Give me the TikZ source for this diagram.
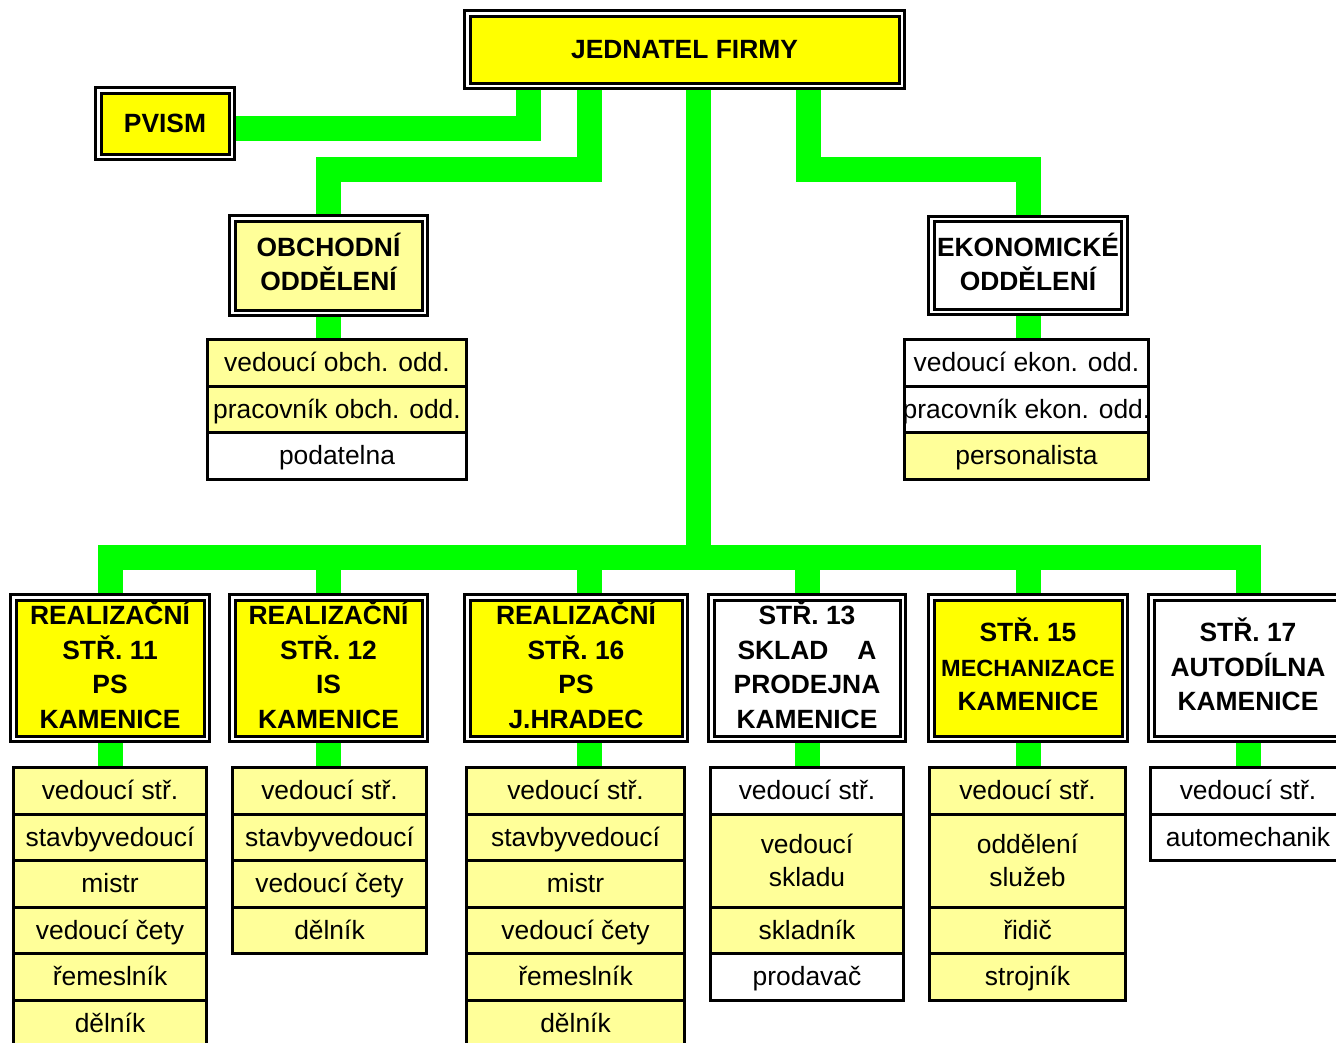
\documentclass[tikz,border=0pt]{standalone}
\usepackage{fontspec}
\setmainfont{Liberation Sans}
\usetikzlibrary{backgrounds}
\definecolor{barGreen}{HTML}{00FF00}
\definecolor{topYellow}{HTML}{FFFF00}
\definecolor{paleYellow}{HTML}{FFFF99}
\def\hdfont{\bfseries\fontsize{26.4}{34.5}\selectfont}
\def\jobfont{\fontsize{26.4}{33}\selectfont}
\tikzset{
	bar/.style={draw=barGreen, line width=25pt},
	head/.style={draw, line width=3pt, double=white, double distance=2.5pt, inner sep=0pt, outer sep=0pt, align=center, font=\hdfont, text depth=7pt},
	post/.style={draw, line width=3pt, inner sep=0pt, outer sep=0pt, align=center, font=\jobfont, minimum height=46.5pt, text height=24pt, text depth=6pt},
	post2/.style={draw, line width=3pt, inner sep=0pt, outer sep=0pt, align=center, font=\jobfont, minimum height=93pt},
}

\begin{document}
\begin{tikzpicture}[x=1pt, y=-1pt]
			%%%%% START %%%%%
			\useasboundingbox (0, 0) rectangle (1336, 1042);
			\clip (0, 0) rectangle (1336, 1042);
			
			\coordinate (pv) at (528, 128);
			\coordinate (ob) at (589, 169);
			\coordinate (ek) at (808, 169);
			\coordinate (bus) at (698, 557);
			
			\node[head, text depth=0pt, fill=topYellow, minimum width=434.5pt, minimum height=72.5pt] (jednatel) at (684.5, 49.5) {JEDNATEL FIRMY};
			\node[head, text depth=0pt, fill=topYellow, minimum width=133.5pt, minimum height=66.5pt] (pvism) at (165, 123.5) {PVISM};
			\node[head, fill=paleYellow, minimum width=192.5pt, minimum height=94.5pt] (obch) at (328.5, 265.5) {OBCHODNÍ\\ODDĚLENÍ};
			\node[head, fill=white, minimum width=193pt, minimum height=93pt] (ekon) at (1028, 265.5) {EKONOMICKÉ\\ODDĚLENÍ};
			
			\node[post, fill=paleYellow, minimum width=259pt] (ob1) at (337, 362.75) {vedoucí obch. odd.};
			\node[post, fill=paleYellow, minimum width=259pt] (ob2) at (337, 409.25) {pracovník obch. odd.};
			\node[post, fill=white, minimum width=259pt] (ob3) at (337, 455.75) {podatelna};
			
			\node[post, fill=white, minimum width=244pt] (ek1) at (1026.5, 362.75) {vedoucí ekon. odd.};
			\node[post, fill=white, minimum width=244pt] (ek2) at (1026.5, 409.25) {\makebox[200pt]{pracovník ekon. odd.}};
			\node[post, fill=paleYellow, minimum width=244pt] (ek3) at (1026.5, 455.75) {personalista};
			
			\node[head, fill=topYellow, minimum width=193.5pt, minimum height=141.5pt] (h11) at (110, 668) {REALIZAČNÍ\\STŘ. 11\\PS\\KAMENICE};
			\node[head, fill=topYellow, minimum width=192.5pt, minimum height=141.5pt] (h12) at (328.5, 668) {REALIZAČNÍ\\STŘ. 12\\IS\\KAMENICE};
			\node[head, fill=topYellow, minimum width=217.5pt, minimum height=141.5pt] (h16) at (576, 668) {REALIZAČNÍ\\STŘ. 16\\PS\\J.HRADEC};
			\node[head, fill=white, minimum width=191.5pt, minimum height=141.5pt] (h13) at (807, 668) {STŘ. 13\\SKLAD\hspace{29pt}A\\PRODEJNA\\KAMENICE};
			\node[head, fill=topYellow, minimum width=193.5pt, minimum height=141.5pt] (h15) at (1028, 668) {STŘ. 15\\{\fontsize{23.5}{34.5}\selectfont MECHANIZACE}\\KAMENICE};
			\node[head, fill=white, minimum width=193.5pt, minimum height=141.5pt] (h17) at (1248, 668) {STŘ. 17\\AUTODÍLNA\\KAMENICE};
			
			\node[post, fill=paleYellow, minimum width=193pt] (l11a) at (110, 790.75) {vedoucí stř.};
			\node[post, fill=paleYellow, minimum width=193pt] (l11b) at (110, 837.25) {stavbyvedoucí};
			\node[post, fill=paleYellow, minimum width=193pt] (l11c) at (110, 883.75) {mistr};
			\node[post, fill=paleYellow, minimum width=193pt] (l11d) at (110, 930.25) {vedoucí čety};
			\node[post, fill=paleYellow, minimum width=193pt] (l11e) at (110, 976.75) {řemeslník};
			\node[post, fill=paleYellow, minimum width=193pt] (l11f) at (110, 1023.25) {dělník};
			
			\node[post, fill=paleYellow, minimum width=194pt] (l12a) at (329.5, 790.75) {vedoucí stř.};
			\node[post, fill=paleYellow, minimum width=194pt] (l12b) at (329.5, 837.25) {stavbyvedoucí};
			\node[post, fill=paleYellow, minimum width=194pt] (l12c) at (329.5, 883.75) {vedoucí čety};
			\node[post, fill=paleYellow, minimum width=194pt] (l12d) at (329.5, 930.25) {dělník};
			
			\node[post, fill=paleYellow, minimum width=218pt] (l16a) at (575.5, 790.75) {vedoucí stř.};
			\node[post, fill=paleYellow, minimum width=218pt] (l16b) at (575.5, 837.25) {stavbyvedoucí};
			\node[post, fill=paleYellow, minimum width=218pt] (l16c) at (575.5, 883.75) {mistr};
			\node[post, fill=paleYellow, minimum width=218pt] (l16d) at (575.5, 930.25) {vedoucí čety};
			\node[post, fill=paleYellow, minimum width=218pt] (l16e) at (575.5, 976.75) {řemeslník};
			\node[post, fill=paleYellow, minimum width=218pt] (l16f) at (575.5, 1023.25) {dělník};
			
			\node[post, fill=white, minimum width=193pt] (l13a) at (807, 790.75) {vedoucí stř.};
			\node[post2, fill=paleYellow, minimum width=193pt] (l13b) at (807, 860.5) {vedoucí\\skladu};
			\node[post, fill=paleYellow, minimum width=193pt] (l13c) at (807, 930.25) {skladník};
			\node[post, fill=white, minimum width=193pt] (l13d) at (807, 976.75) {prodavač};
			
			\node[post, fill=paleYellow, minimum width=196pt] (l15a) at (1027.5, 790.75) {vedoucí stř.};
			\node[post2, fill=paleYellow, minimum width=196pt] (l15b) at (1027.5, 860.5) {oddělení\\služeb};
			\node[post, fill=paleYellow, minimum width=196pt] (l15c) at (1027.5, 930.25) {řidič};
			\node[post, fill=paleYellow, minimum width=196pt] (l15d) at (1027.5, 976.75) {strojník};
			
			\node[post, fill=white, minimum width=195pt] (l17a) at (1248, 790.75) {vedoucí stř.};
			\node[post, fill=white, minimum width=195pt] (l17b) at (1248, 837.25) {automechanik};
			
			\begin{scope}[on background layer]
			\draw[bar] (jednatel.south -| bus) -- (bus);
			\draw[bar] (jednatel.south -| pv) -- (pv) -- (pvism.east |- pv);
			\draw[bar] (jednatel.south -| ob) -- (ob) -| (obch.north);
			\draw[bar] (jednatel.south -| ek) -- (ek) -| (ekon.north);
			\draw[bar] (obch.south) -- (obch.south |- ob1.north);
			\draw[bar] (ekon.south) -- (ekon.south |- ek1.north);
			
			\draw[bar] (h11.north) -- (h11.north |- bus) -- (h17.north |- bus) -- (h17.north);
			\draw[bar] (h12.north) -- (h12.north |- bus);
			\draw[bar] ([xshift=13pt]h16.north) -- ([xshift=13pt]h16.north |- bus);
			\draw[bar] (h13.north) -- (h13.north |- bus);
			\draw[bar] (h15.north) -- (h15.north |- bus);
			
			\draw[bar] (h11.south) -- (h11.south |- l11a.north);
			\draw[bar] (h12.south) -- (h12.south |- l12a.north);
			\draw[bar] ([xshift=13pt]h16.south) -- ([xshift=13pt]h16.south |- l16a.north);
			\draw[bar] (h13.south) -- (h13.south |- l13a.north);
			\draw[bar] (h15.south) -- (h15.south |- l15a.north);
			\draw[bar] (h17.south) -- (h17.south |- l17a.north);
			\end{scope}
			%%%%% END %%%%%
\end{tikzpicture}
\end{document}
